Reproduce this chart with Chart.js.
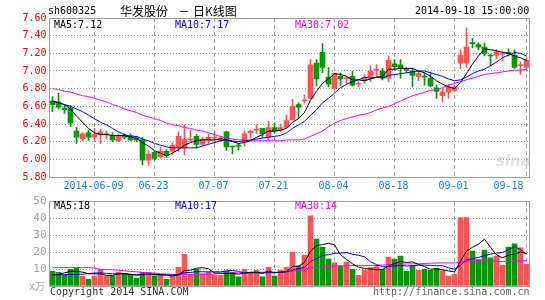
<!DOCTYPE html>
<html>
<head>
<meta charset="utf-8">
<script src="https://cdn.jsdelivr.net/npm/chart.js@4.4.1/dist/chart.umd.min.js"></script>
<style>
  body { margin: 0; background: #fff; width: 545px; height: 300px; position: relative; overflow: hidden; }
  canvas { position: absolute; left: 0; }
  .t { position: absolute; font: 10px "DejaVu Sans Mono", monospace; line-height: 12px; white-space: pre; color: #000; }
  .cn { position: absolute; font: 12px "Noto Sans CJK SC", sans-serif; line-height: 14px; white-space: pre; color: #000; }
</style>
</head>
<body>
<canvas id="price" width="545" height="196" style="top:0"></canvas>
<canvas id="volume" width="545" height="110" style="top:190px"></canvas>

<div class="t" style="left:48px;top:5px">sh600325</div>
<div class="cn" style="left:120px;top:4px">华发股份</div>
<div class="cn" style="left:178px;top:4px">－</div>
<div class="cn" style="left:193px;top:4px">日K线图</div>
<div class="t" style="left:415px;top:5px">2014-09-18 15:00:00</div>

<div class="t" style="left:54px;top:19px">MA5:7.12</div>
<div class="t" style="left:175px;top:19px;color:#0000ff">MA10:7.17</div>
<div class="t" style="left:295px;top:19px;color:#ff00ff">MA30:7.02</div>
<div style="position:absolute;left:496px;top:152px;font:italic bold 15px 'DejaVu Sans',sans-serif;color:rgba(215,195,195,0.55)">sina</div>

<div class="t" style="left:54px;top:200px">MA5:18</div>
<div class="t" style="left:175px;top:200px;color:#0000ff">MA10:17</div>
<div class="t" style="left:295px;top:200px;color:#ff00ff">MA30:14</div>
<div class="t" style="left:29px;top:280px;color:#aaa">x<span style="font-family:'Noto Sans CJK SC'">万</span></div>
<div class="t" style="left:50px;top:286px;color:#333">Copyright 2014 SINA.COM</div>
<div class="t" style="left:373px;top:286px;color:#666">http://finance.sina.com.cn</div>

<script>
// trading days shown
const dates = [
  '2014-05-28','2014-05-29','2014-05-30','2014-06-03','2014-06-04','2014-06-05','2014-06-06','2014-06-09','2014-06-10','2014-06-11',
  '2014-06-12','2014-06-13','2014-06-16','2014-06-17','2014-06-18','2014-06-19','2014-06-20','2014-06-23','2014-06-24','2014-06-25',
  '2014-06-26','2014-06-27','2014-06-30','2014-07-01','2014-07-02','2014-07-03','2014-07-04','2014-07-07','2014-07-08','2014-07-09',
  '2014-07-10','2014-07-11','2014-07-14','2014-07-15','2014-07-16','2014-07-17','2014-07-18','2014-07-21','2014-07-22','2014-07-23',
  '2014-07-24','2014-07-25','2014-07-28','2014-07-29','2014-07-30','2014-07-31','2014-08-01','2014-08-04','2014-08-05','2014-08-06',
  '2014-08-07','2014-08-08','2014-08-11','2014-08-12','2014-08-13','2014-08-14','2014-08-15','2014-08-18','2014-08-19','2014-08-20',
  '2014-08-21','2014-08-22','2014-08-25','2014-08-26','2014-08-27','2014-08-28','2014-08-29','2014-09-01','2014-09-02','2014-09-03',
  '2014-09-04','2014-09-05','2014-09-09','2014-09-10','2014-09-11','2014-09-12','2014-09-15','2014-09-16','2014-09-17','2014-09-18'
];
const tickDates = ['2014-06-09','2014-06-23','2014-07-07','2014-07-21','2014-08-04','2014-08-18','2014-09-01','2014-09-18'];
const tickTexts = ['2014-06-09','06-23','07-07','07-21','08-04','08-18','09-01','09-18'];

const open = [
  6.66,6.65,6.58,6.58,6.32,6.23,6.30,6.25,6.28,6.28, 6.27,6.21,6.27,6.27,6.24,6.22,5.99,6.08,6.03,6.09,
  6.09,6.14,6.13,6.22,6.26,6.17,6.22,6.24,6.22,6.31, 6.15,6.16,6.20,6.30,6.33,6.35,6.25,6.36,6.33,6.36,
  6.45,6.62,6.66,6.69,7.09,7.21,6.93,6.80,6.94,6.91, 6.94,6.85,6.89,6.93,7.01,7.00,6.92,7.08,7.07,7.02,
  7.00,6.94,6.94,6.92,6.81,6.72,6.76,6.78,7.09,7.09, 7.32,7.30,7.27,7.18,7.18,7.19,7.21,7.18,7.06,7.04
];
const high = [
  6.71,6.75,6.61,6.61,6.36,6.30,6.33,6.35,6.34,6.32, 6.30,6.29,6.29,6.29,6.26,6.25,6.10,6.09,6.14,6.11,
  6.19,6.31,6.39,6.33,6.28,6.25,6.28,6.31,6.26,6.32, 6.15,6.18,6.32,6.33,6.39,6.35,6.43,6.41,6.40,6.50,
  6.68,6.64,6.73,7.13,7.13,7.31,7.04,6.98,6.98,6.94, 7.00,6.88,6.96,7.06,7.07,7.03,7.17,7.13,7.13,7.04,
  7.03,7.00,6.98,6.99,6.84,6.80,6.85,6.84,7.24,7.49, 7.37,7.32,7.32,7.19,7.24,7.22,7.25,7.24,7.10,7.15
];
const low = [
  6.54,6.57,6.52,6.37,6.18,6.21,6.21,6.20,6.18,6.23, 6.20,6.20,6.23,6.21,6.20,5.94,5.93,5.99,6.01,6.02,
  6.05,6.09,6.05,6.20,6.13,6.16,6.18,6.18,6.20,6.10, 6.06,6.11,6.15,6.24,6.29,6.25,6.22,6.30,6.31,6.35,
  6.44,6.46,6.64,6.68,6.83,6.98,6.82,6.79,6.83,6.85, 6.83,6.82,6.86,6.88,6.94,6.90,6.88,7.02,6.92,6.98,
  6.82,6.89,6.84,6.82,6.69,6.65,6.69,6.77,7.03,7.04, 7.26,7.24,7.17,7.06,7.14,7.11,7.17,7.03,6.96,7.00
];
const close = [
  6.62,6.59,6.56,6.41,6.25,6.29,6.25,6.28,6.31,6.29, 6.22,6.27,6.25,6.22,6.22,5.99,6.06,6.01,6.09,6.05,
  6.16,6.26,6.23,6.23,6.17,6.23,6.25,6.24,6.24,6.14, 6.14,6.15,6.29,6.32,6.33,6.29,6.36,6.32,6.36,6.44,
  6.60,6.59,6.67,7.07,6.91,7.04,6.85,6.97,6.91,6.92, 6.84,6.86,6.92,7.00,7.02,6.92,7.12,7.05,7.03,7.01,
  6.95,6.97,6.93,6.83,6.77,6.76,6.82,6.82,7.18,7.27, 7.31,7.27,7.20,7.17,7.22,7.20,7.20,7.04,7.07,7.12
];
const ma5 = [
  6.66,6.64,6.62,6.57,6.49,6.42,6.35,6.30,6.28,6.28, 6.27,6.27,6.27,6.25,6.24,6.19,6.15,6.10,6.07,6.04,
  6.07,6.11,6.16,6.19,6.21,6.22,6.22,6.22,6.23,6.22, 6.20,6.18,6.19,6.21,6.25,6.28,6.32,6.32,6.33,6.35,
  6.42,6.46,6.53,6.67,6.77,6.86,6.91,6.97,6.96,6.94, 6.90,6.90,6.89,6.91,6.93,6.94,7.02,7.02,7.03,7.03,
  7.03,7.00,6.98,6.94,6.89,6.85,6.82,6.80,6.87,6.97, 7.08,7.17,7.25,7.24,7.23,7.21,7.20,7.17,7.15,7.12
];
const ma10 = [
  6.66,6.64,6.62,6.60,6.57,6.54,6.50,6.46,6.42,6.39, 6.35,6.31,6.28,6.26,6.26,6.23,6.21,6.18,6.16,6.14,
  6.13,6.13,6.13,6.13,6.13,6.15,6.17,6.19,6.21,6.22, 6.21,6.20,6.21,6.22,6.23,6.24,6.25,6.26,6.27,6.30,
  6.35,6.39,6.43,6.50,6.56,6.64,6.69,6.75,6.81,6.85, 6.88,6.90,6.93,6.92,6.93,6.92,6.95,6.96,6.97,6.98,
  6.99,7.00,7.00,6.98,6.96,6.94,6.91,6.89,6.90,6.93, 6.97,7.00,7.02,7.06,7.10,7.15,7.18,7.21,7.20,7.17
];
const ma30 = [
  6.80,6.79,6.77,6.76,6.74,6.72,6.71,6.69,6.67,6.65, 6.62,6.60,6.57,6.55,6.53,6.50,6.48,6.46,6.44,6.41,
  6.39,6.38,6.36,6.35,6.33,6.32,6.30,6.28,6.26,6.24, 6.23,6.22,6.22,6.21,6.21,6.21,6.21,6.21,6.21,6.22,
  6.22,6.22,6.23,6.26,6.29,6.32,6.37,6.41,6.44,6.46, 6.48,6.50,6.51,6.53,6.56,6.58,6.60,6.63,6.66,6.69,
  6.72,6.74,6.76,6.78,6.79,6.81,6.84,6.86,6.88,6.90, 6.92,6.94,6.96,6.97,6.98,6.99,7.00,7.01,7.01,7.02
];

// volume, x10k shares
const volume = [
  8.7,8.1,6.3,9.9,10.7,5.8,4.0,5.8,9.9,5.8, 5.8,8.1,7.3,6.9,4.6,8.1,8.1,6.0,6.3,4.0,
  5.8,11.1,18.8,6.7,9.9,7.3,8.1,6.3,6.3,8.9, 8.1,5.4,9.9,8.1,9.3,5.4,11.1,5.8,9.3,11.1,
  20.0,11.9,18.3,41.5,27.8,23.0,15.9,13.7,11.9,14.1, 9.9,6.3,9.3,10.9,12.3,9.9,17.1,15.9,17.7,8.7,
  12.1,9.3,9.9,9.3,10.5,9.1,5.8,6.9,40.5,40.5, 20.6,15.7,21.2,16.7,17.7,12.3,23.0,25.0,22.6,12.9
];
const volMa5 = [
  6.4,6.8,7.8,8.6,8.7,8.2,7.3,7.2,7.2,6.3, 6.3,7.1,7.4,6.8,6.5,7.0,7.0,6.7,6.6,6.5,
  6.0,6.6,9.2,9.3,10.5,10.8,10.2,7.7,7.6,7.4, 7.5,7.0,7.7,8.1,8.2,7.6,8.8,7.9,8.2,8.5,
  11.5,11.6,14.1,20.6,23.9,24.5,25.3,24.4,18.5,15.7, 13.1,11.2,10.3,10.1,9.7,9.7,11.9,13.2,14.6,13.9,
  14.3,12.7,11.5,9.9,10.2,9.6,8.9,8.3,14.6,20.6, 22.9,24.8,27.7,22.9,18.4,16.7,18.2,18.9,20.1,19.2
];
const volMa10 = [
  6.7,6.7,6.7,6.8,6.9,7.0,7.3,7.7,7.8,7.5, 7.2,7.2,7.3,7.0,6.4,6.6,7.0,7.1,6.7,6.5,
  6.5,6.8,8.0,8.0,8.5,8.4,8.4,8.4,8.4,8.9, 9.2,8.6,7.7,7.8,7.8,7.6,7.9,7.8,8.1,8.4,
  9.5,10.2,11.0,14.4,16.2,18.0,18.5,19.3,19.5,19.8, 18.8,18.2,17.3,14.3,12.7,11.4,11.5,11.8,12.3,11.8,
  12.0,12.3,12.4,12.2,12.0,12.0,10.8,9.9,12.2,15.4, 16.2,16.9,18.0,18.8,19.5,19.8,21.5,23.3,21.5,18.8
];
const volMa30 = [
  10.9,10.9,10.9,10.9,10.9,10.9,10.9,10.6,9.8,9.6, 9.6,9.3,9.0,8.6,8.4,8.1,7.9,7.6,7.3,7.1,
  6.9,6.8,6.7,6.7,6.7,6.7,6.8,7.0,7.5,7.6, 7.7,7.8,7.9,8.0,8.1,8.2,8.1,8.1,8.1,8.3,
  8.6,9.2,9.5,10.7,11.0,11.3,11.6,11.8,11.9,12.0, 12.1,12.2,12.2,12.2,12.3,12.4,12.6,12.8,12.9,13.0,
  13.1,13.2,13.3,13.5,13.6,13.7,13.7,13.6,14.2,14.8, 14.9,14.9,14.8,14.7,14.6,14.5,14.6,14.8,14.9,14.9
];

const UP = '#ff5555';
const DOWN = '#009900';
const candleColors = dates.map((d, i) => close[i] >= open[i] ? UP : DOWN);
const tickIndex = tickDates.map(d => dates.indexOf(d));
const MONO = '"DejaVu Sans Mono", monospace';

// grey box around the plot area
const framePlugin = {
  id: 'frame',
  afterDatasetsDraw(chart) {
    const a = chart.chartArea, ctx = chart.ctx;
    ctx.save();
    ctx.strokeStyle = '#a0a0a0';
    ctx.lineWidth = 1;
    ctx.strokeRect(Math.floor(a.left) + 0.5, Math.floor(a.top) + 0.5,
                   Math.round(a.right - a.left), Math.round(a.bottom - a.top));
    ctx.restore();
  }
};

// date labels under the price panel, last one pulled inside the frame
const dateLabels = {
  id: 'dateLabels',
  afterDraw(chart) {
    const x = chart.scales.x, a = chart.chartArea, ctx = chart.ctx;
    ctx.save();
    ctx.font = '10px ' + MONO;
    ctx.fillStyle = '#1a7fd4';
    ctx.textAlign = 'center';
    ctx.textBaseline = 'middle';
    tickIndex.forEach((idx, k) => {
      const txt = tickTexts[k];
      const w = ctx.measureText(txt).width;
      let px = x.getPixelForValue(idx) - 1;
      if (px + w / 2 > a.right - 6) px = a.right - 6 - w / 2;
      ctx.fillText(txt, px, a.bottom + 9.5);
    });
    ctx.restore();
  }
};

function lineSet(data, color, order) {
  return { type: 'line', data: data, borderColor: color, borderWidth: 1,
           pointRadius: 0, tension: 0, fill: false, order: order };
}

function xScale() {
  return {
    offset: true,
    ticks: { display: false, autoSkip: false },
    grid: {
      offset: false,
      drawTicks: false,
      color: c => tickIndex.includes(c.index) ? '#aaaaaa' : 'rgba(0,0,0,0)',
      lineWidth: 1
    },
    border: { display: false, dash: [4, 3] }
  };
}

new Chart(document.getElementById('price'), {
  type: 'bar',
  data: {
    labels: dates,
    datasets: [
      lineSet(ma5, '#000000', 0),
      lineSet(ma10, '#0000ff', 1),
      lineSet(ma30, '#ff00ff', 2),
      { data: dates.map((d, i) => [open[i], close[i]]), backgroundColor: candleColors,
        barThickness: 5, minBarLength: 1, grouped: false, order: 3 },
      { data: dates.map((d, i) => [low[i], high[i]]), backgroundColor: candleColors,
        barThickness: 1, grouped: false, order: 4 }
    ]
  },
  options: {
    responsive: false,
    animation: false,
    devicePixelRatio: 1,
    layout: { padding: { top: 18, right: 15.5, bottom: 19, left: 0 } },
    plugins: { legend: { display: false }, tooltip: { enabled: false } },
    scales: {
      x: xScale(),
      y: {
        min: 5.8, max: 7.6,
        afterFit: s => { s.width = 49.5; },
        ticks: { stepSize: 0.2, padding: 3, color: '#ff0000', font: { family: MONO, size: 10 },
                 callback: v => v.toFixed(2) },
        grid: { color: '#999999', drawTicks: false },
        border: { display: false, dash: [1, 2] }
      }
    }
  },
  plugins: [framePlugin, dateLabels]
});

new Chart(document.getElementById('volume'), {
  type: 'bar',
  data: {
    labels: dates,
    datasets: [
      lineSet(volMa5, '#000000', 0),
      lineSet(volMa10, '#0000ff', 1),
      lineSet(volMa30, '#ff00ff', 2),
      { data: volume, backgroundColor: candleColors, barThickness: 5, grouped: false, order: 3 }
    ]
  },
  options: {
    responsive: false,
    animation: false,
    devicePixelRatio: 1,
    layout: { padding: { top: 11.5, right: 15.5, bottom: 14, left: 0 } },
    plugins: { legend: { display: false }, tooltip: { enabled: false } },
    scales: {
      x: xScale(),
      y: {
        min: 0, max: 50,
        afterFit: s => { s.width = 49.5; },
        ticks: { stepSize: 10, padding: 3, color: '#a0a0a0', font: { family: MONO, size: 11 },
                 callback: v => v === 0 ? '' : v },
        grid: { color: '#999999', drawTicks: false },
        border: { display: false, dash: [1, 2] }
      }
    }
  },
  plugins: [framePlugin]
});
</script>
</body>
</html>
